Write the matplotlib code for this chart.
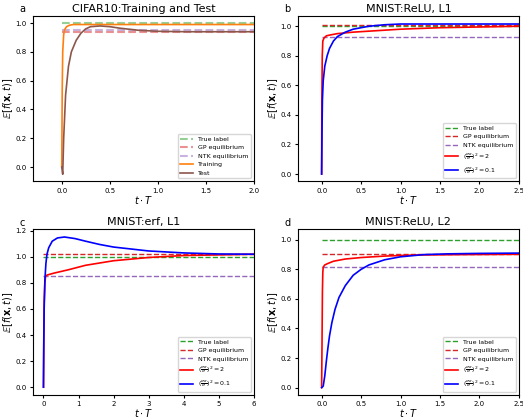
import numpy as np
import matplotlib
matplotlib.use('Agg')
from matplotlib import pyplot as plt

# panel a: CIFAR10 training / test
a_train_t = [0.0, 0.005, 0.01, 0.02, 0.03, 0.05, 0.08, 0.12, 0.2, 0.4, 1.0, 2.0]
a_train_y = [0.0, 0.55, 0.8, 0.92, 0.955, 0.975, 0.985, 0.99, 0.99, 0.99, 0.99, 0.99]
a_test_t = [0.0, 0.01, 0.02, 0.04, 0.07, 0.1, 0.15, 0.2, 0.25, 0.3, 0.4, 0.5, 0.6, 0.8, 1.0, 1.3, 1.6, 2.0]
a_test_y = [0.0, -0.05, 0.2, 0.5, 0.7, 0.8, 0.88, 0.93, 0.96, 0.975, 0.98, 0.975, 0.965, 0.95, 0.943, 0.94, 0.94, 0.94]
a_levels = [1.0, 0.94, 0.955]

# panel b: MNIST ReLU L1
b_red_t = [0.0, 0.003, 0.008, 0.015, 0.03, 0.06, 0.1, 0.2, 0.4, 0.7, 1.0, 1.5, 2.0, 2.5]
b_red_y = [0.0, 0.5, 0.8, 0.9, 0.92, 0.935, 0.94, 0.95, 0.96, 0.97, 0.98, 0.99, 0.995, 1.0]
b_blue_t = [0.0, 0.005, 0.01, 0.02, 0.04, 0.07, 0.1, 0.15, 0.2, 0.3, 0.4, 0.6, 0.8, 1.0, 1.5, 2.5]
b_blue_y = [0.0, 0.3, 0.5, 0.63, 0.73, 0.8, 0.85, 0.9, 0.93, 0.96, 0.98, 1.0, 1.01, 1.015, 1.015, 1.015]
b_levels = [1.0, 1.01, 0.93]

# panel c: MNIST erf L1
c_red_t = [0.0, 0.01, 0.02, 0.04, 0.06, 0.1, 0.3, 0.7, 1.2, 2.0, 3.0, 4.0, 5.0, 6.0]
c_red_y = [0.0, 0.4, 0.65, 0.8, 0.85, 0.86, 0.875, 0.9, 0.935, 0.97, 0.995, 1.01, 1.015, 1.02]
c_blue_t = [0.0, 0.01, 0.02, 0.04, 0.07, 0.1, 0.15, 0.25, 0.4, 0.6, 0.9, 1.2, 1.6, 2.0, 2.5, 3.0, 4.0, 5.0, 6.0]
c_blue_y = [0.0, 0.35, 0.6, 0.82, 0.95, 1.02, 1.07, 1.12, 1.145, 1.152, 1.14, 1.12, 1.095, 1.075, 1.06, 1.045, 1.03, 1.022, 1.02]
c_levels = [1.0, 1.02, 0.85]

# panel d: MNIST ReLU L2
d_red_t = [0.0, 0.005, 0.01, 0.015, 0.02, 0.04, 0.08, 0.15, 0.3, 0.5, 0.8, 1.2, 1.8, 2.5]
d_red_y = [0.0, 0.3, 0.65, 0.78, 0.815, 0.83, 0.84, 0.855, 0.87, 0.88, 0.89, 0.897, 0.9, 0.902]
d_blue_t = [0.0, 0.02, 0.04, 0.06, 0.08, 0.1, 0.13, 0.17, 0.22, 0.3, 0.4, 0.5, 0.6, 0.8, 1.0, 1.3, 1.6, 2.0, 2.5]
d_blue_y = [0.0, 0.01, 0.08, 0.18, 0.27, 0.35, 0.44, 0.53, 0.61, 0.69, 0.76, 0.8, 0.83, 0.865, 0.885, 0.9, 0.905, 0.908, 0.91]
d_levels = [1.0, 0.905, 0.815]

level_names = ['True label', 'GP equilibrium', 'NTK equilibrium']
level_colors = ['tab:green', 'tab:red', 'tab:purple']
lab_red = r'$(\frac{\sigma_w}{\sigma})^2 = 2$'
lab_blue = r'$(\frac{\sigma_w}{\sigma})^2 = 0.1$'

plt.rcParams['font.size'] = 5.5
fig, axes = plt.subplots(2, 2, figsize=(5.23, 4.18), dpi=100)
fig.subplots_adjust(left=0.063, right=0.992, top=0.962, bottom=0.055, wspace=0.2, hspace=0.29)


def panel(ax, letter, title, xmax, levels, faded=False):
    for lev, name, col in zip(levels, level_names, level_colors):
        if faded:
            ax.plot([0, xmax], [lev, lev], '--', color=col, alpha=0.5, lw=1.5, label=name)
        else:
            ax.plot([0, xmax], [lev, lev], '--', color=col, lw=1, label=name)
    ax.set_title(title, fontsize=8, pad=3)
    ax.text(-0.035, 1.01, letter, transform=ax.transAxes, fontsize=7, ha='right', va='bottom')
    ax.set_xlim(-0.3, xmax)
    ax.set_xlabel(r'$t \cdot T$', fontsize=7, labelpad=0)
    ax.set_ylabel(r'$\mathbb{E}[f(\mathbf{x}, t)]$', fontsize=7, labelpad=0.5)
    ax.tick_params(labelsize=5, length=2.5, pad=2)


ax = axes[0, 0]
panel(ax, 'a', 'CIFAR10:Training and Test', 2.0, a_levels, faded=True)
ax.plot(a_train_t, a_train_y, color='tab:orange', lw=1.2, label='Training')
ax.plot(a_test_t, a_test_y, color='tab:brown', lw=1.2, label='Test')
ax.set_ylim(-0.1, 1.05)
ax.legend(loc='lower right', fontsize=4.5)

ax = axes[0, 1]
panel(ax, 'b', 'MNIST:ReLU, L1', 2.5, b_levels)
ax.plot(b_red_t, b_red_y, color='red', lw=1.2, label=lab_red)
ax.plot(b_blue_t, b_blue_y, color='blue', lw=1.2, label=lab_blue)
ax.set_ylim(-0.05, 1.07)
ax.legend(loc='lower right', fontsize=4.5)

ax = axes[1, 0]
panel(ax, 'c', 'MNIST:erf, L1', 6.0, c_levels)
ax.plot(c_red_t, c_red_y, color='red', lw=1.2, label=lab_red)
ax.plot(c_blue_t, c_blue_y, color='blue', lw=1.2, label=lab_blue)
ax.set_ylim(-0.06, 1.21)
ax.legend(loc='lower right', fontsize=4.5)

ax = axes[1, 1]
panel(ax, 'd', 'MNIST:ReLU, L2', 2.5, d_levels)
ax.plot(d_red_t, d_red_y, color='red', lw=1.2, label=lab_red)
ax.plot(d_blue_t, d_blue_y, color='blue', lw=1.2, label=lab_blue)
ax.set_ylim(-0.05, 1.07)
ax.legend(loc='lower right', fontsize=4.5)

fig.savefig('out.png')
